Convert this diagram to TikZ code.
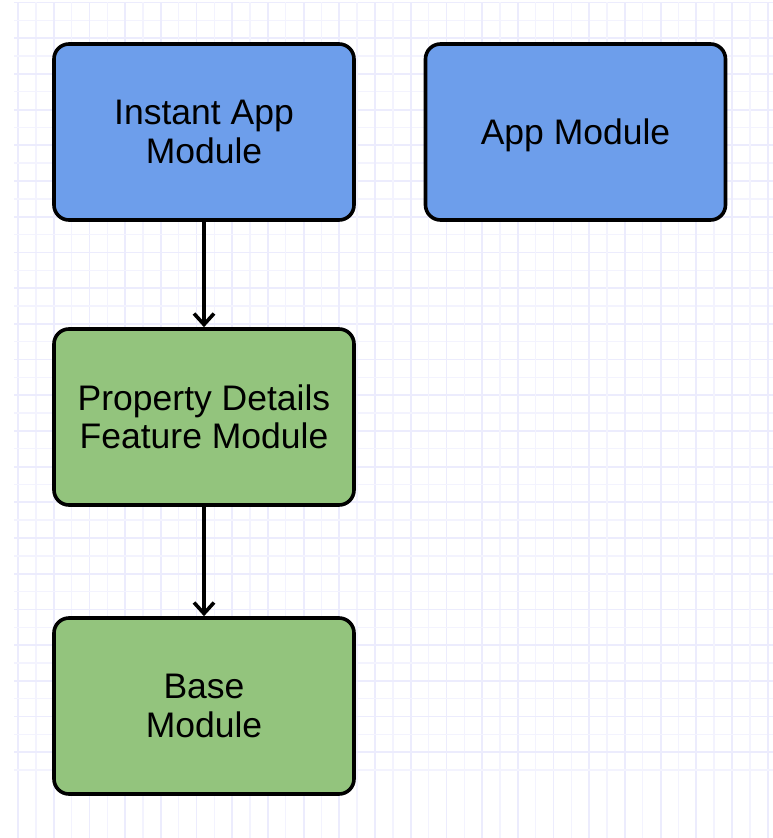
\documentclass[tikz,border=0pt]{standalone}
\usepackage{fontspec}
\setmainfont{Liberation Sans}
\usetikzlibrary{arrows.meta}
\definecolor{boxblue}{HTML}{6D9EEB}
\definecolor{boxgreen}{HTML}{93C47D}
\definecolor{gridminor}{HTML}{F3F3FE}
\definecolor{gridmajor}{HTML}{ECECFD}
\tikzset{
  modbox/.style={draw=black, line width=3.6pt, rounded corners=15pt,
    minimum width=300pt, minimum height=176pt, align=center,
    font=\fontsize{35.5}{38.5}\selectfont, inner sep=0pt},
  bluebox/.style={modbox, fill=boxblue},
  greenbox/.style={modbox, fill=boxgreen},
  dep/.style={draw=black, line width=3.6pt, -{Straight Barb[length=11pt,width=20pt]}}
}
\begin{document}
\begin{tikzpicture}[x=1pt,y=-1pt]
\useasboundingbox (0,0) rectangle (773,838);
\fill[white] (0,0) rectangle (773,838);
\begin{scope}
\clip (14,2) rectangle (773,838);
\foreach \k in {0,...,43} {
  \pgfmathsetmacro{\xx}{18+17.85*\k}
  \pgfmathsetmacro{\yy}{2.5+17.85*\k}
  \pgfmathtruncatemacro{\kpar}{mod(\k,2)}
  \ifnum\kpar=0
    \draw[gridmajor, line width=1.8pt] (\xx,0) -- (\xx,838);
    \draw[gridmajor, line width=1.8pt] (0,\yy) -- (773,\yy);
  \else
    \draw[gridminor, line width=1.4pt] (\xx,0) -- (\xx,838);
    \draw[gridminor, line width=1.4pt] (0,\yy) -- (773,\yy);
  \fi
}
\end{scope}
\node[bluebox] (instant) at (204,132) {Instant App\\Module};
\node[bluebox, text depth=0pt] (app) at (575.5,132) {App Module};
\node[greenbox] (prop) at (204,417) {Property Details\\Feature Module};
\node[greenbox] (base) at (204,706) {Base\\Module};
\draw[dep] (instant) -- (prop);
\draw[dep] (prop) -- (base);
\end{tikzpicture}
\end{document}
